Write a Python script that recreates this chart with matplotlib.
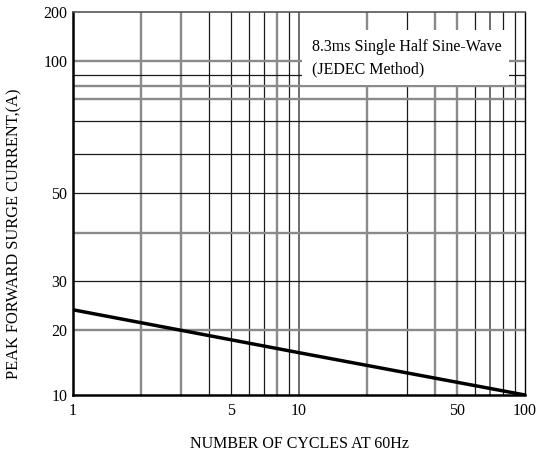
import numpy as np
import matplotlib
matplotlib.use('Agg')
import matplotlib.pyplot as plt
from matplotlib.patches import Rectangle
from matplotlib.ticker import NullLocator

plt.rcParams['font.family'] = 'Liberation Serif'

# Surge current curve
cycles = [1, 10, 100]
surge_current = [24.1, 16.5, 10.0]

x_ticks = [1, 5, 10, 50, 100]
y_ticks = [10, 20, 30, 50, 100, 200]

# grid lines: dark thin ones and light thick ones
x_grid_dark = [4, 5, 6, 7, 9, 30, 60, 80, 90]
x_grid_mid = [10, 70]
x_grid_light = [2, 3, 8, 20, 40, 50]
y_grid_dark = [30, 50, 60, 70, 95]
y_grid_light = [20, 40, 80, 90, 100]

# the printed current axis is not a true log axis, so map it piecewise
y_scale_vals = [10, 20, 30, 40, 50, 60, 70, 80, 90, 95, 100, 200]
y_scale_pos = [0, 0.170, 0.298, 0.424, 0.528, 0.629, 0.716, 0.772, 0.807, 0.836, 0.873, 1.0]


def fwd(v):
    return np.interp(v, y_scale_vals, y_scale_pos)


def inv(p):
    return np.interp(p, y_scale_pos, y_scale_vals)


fig = plt.figure(figsize=(5.45, 4.55), dpi=100)
ax = fig.add_axes([73 / 545, 1 - 395 / 455, 452 / 545, 383 / 455])

ax.set_xscale('log')
ax.set_yscale('function', functions=(fwd, inv))
ax.set_xlim(1, 100)
ax.set_ylim(10, 200)

for x in x_grid_light:
    ax.axvline(x, color='#8a8a8a', lw=1.7, zorder=1)
for x in x_grid_mid:
    ax.axvline(x, color='#555555', lw=1.2, zorder=1)
for x in x_grid_dark:
    ax.axvline(x, color='#1a1a1a', lw=0.9, zorder=1)
for y in y_grid_light:
    ax.axhline(y, color='#8a8a8a', lw=1.7, zorder=1)
for y in y_grid_dark:
    ax.axhline(y, color='#1a1a1a', lw=0.9, zorder=1)

# white label box over the grid
ax.add_patch(Rectangle((0.507, 0.809), 0.458, 0.144, transform=ax.transAxes,
                       facecolor='white', edgecolor='none', zorder=2))
ax.text(0.528, 0.909, '8.3ms Single Half Sine-Wave', transform=ax.transAxes,
        ha='left', va='center', fontsize=11.5, zorder=3)
ax.text(0.528, 0.849, '(JEDEC Method)', transform=ax.transAxes,
        ha='left', va='center', fontsize=11.5, zorder=3)

ax.plot(cycles, surge_current, color='black', lw=2.5, zorder=4,
        solid_capstyle='butt')

ax.set_xticks(x_ticks)
ax.set_xticklabels([str(v) for v in x_ticks])
ax.set_yticks(y_ticks)
ax.set_yticklabels([str(v) for v in y_ticks])
ax.xaxis.set_minor_locator(NullLocator())
ax.yaxis.set_minor_locator(NullLocator())
ax.tick_params(axis='x', length=0, pad=6, labelsize=11.5)
ax.tick_params(axis='y', length=0, pad=4, labelsize=11.5)

ax.spines['left'].set_linewidth(1.8)
ax.spines['bottom'].set_linewidth(1.8)
ax.spines['top'].set_linewidth(1.2)
ax.spines['top'].set_color('#555555')
ax.spines['right'].set_linewidth(1.0)
for s in ax.spines.values():
    s.set_zorder(5)

ax.set_xlabel('NUMBER OF CYCLES AT 60Hz', fontsize=11.5)
ax.set_ylabel('PEAK FORWARD SURGE CURRENT,(A)', fontsize=11.8)
ax.xaxis.set_label_coords(0.502, -0.108)
ax.yaxis.set_label_coords(-0.111, 0.42)

fig.savefig('out.png', dpi=100)
